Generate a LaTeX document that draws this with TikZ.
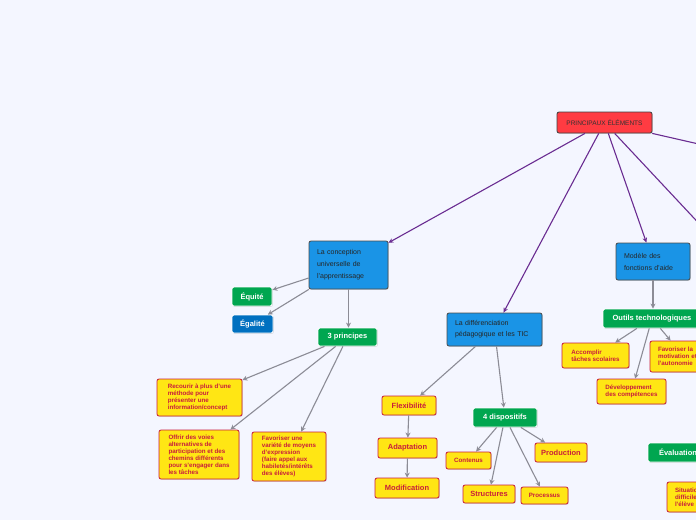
\documentclass[tikz,border=0pt]{standalone}
\usepackage{fontspec}
\setmainfont{Liberation Sans}
\usetikzlibrary{arrows.meta,shadows}
\definecolor{pagebg}{RGB}{244,246,255}
\definecolor{mainred}{RGB}{255,59,66}
\definecolor{topicblue}{RGB}{26,148,230}
\definecolor{tagblue}{RGB}{0,112,192}
\definecolor{taggreen}{RGB}{0,166,80}
\definecolor{leafyellow}{RGB}{255,230,20}
\definecolor{leafred}{RGB}{200,30,60}
\definecolor{linkpurple}{RGB}{106,44,145}
\definecolor{linkgrey}{RGB}{140,140,150}

\begin{document}
\begin{tikzpicture}[x=1pt,y=-1pt,
    box/.style={rounded corners=2pt,inner sep=0pt,
      drop shadow={shadow xshift=0.8pt,shadow yshift=-0.8pt,opacity=0.25}},
    mainbox/.style={box,draw=black!75,line width=0.8pt,fill=mainred,text=black!80,
      font=\fontsize{6.5}{8}\selectfont},
    topic/.style={box,draw=black!70,line width=0.8pt,fill=topicblue,text=black!85,
      align=left,font=\fontsize{7}{12}\selectfont},
    tag/.style={box,draw=white,line width=0.8pt,fill=taggreen,text=white,
      font=\fontsize{7.5}{8}\selectfont\bfseries},
    leaf/.style={box,draw=leafred,line width=0.8pt,fill=leafyellow,text=leafred,
      align=left,font=\fontsize{6.2}{7}\selectfont\bfseries},
    bigleaf/.style={leaf,align=center,font=\fontsize{7.5}{8}\selectfont\bfseries},
    link/.style={linkpurple,line width=1.1pt,-{Stealth[length=5pt,width=4.5pt]}},
    sublink/.style={linkgrey,line width=1.1pt,-{Stealth[length=5pt,width=5pt]}}]
  % page
  \path[use as bounding box,fill=pagebg] (0,0) rectangle (696,520);
  \clip (0,0) rectangle (696,520);

  % central node
  \node[mainbox,minimum width=95pt,minimum height=21pt] (main) at (604.5,122.5) {PRINCIPAUX ÉLÉMENTS};
  \coordinate (offright) at (760,158);
  \coordinate (offdown) at (780,310);

  % first branch
  \node[topic,minimum width=79pt,minimum height=48pt,text width=63pt] (ucd) at (348.5,265)
    {La conception\\universelle de\\l'apprentissage};
  \node[tag,minimum width=40pt,minimum height=19pt] (equite) at (252,296.5) {Équité};
  \node[tag,fill=tagblue,minimum width=41pt,minimum height=18pt] (egalite) at (252.5,324) {Égalité};
  \node[tag,minimum width=59pt,minimum height=18pt] (trois) at (347.5,337) {3 principes};
  \node[leaf,minimum width=85pt,minimum height=37pt] (recourir) at (199.5,397.5)
    {Recourir à plus d'une\\méthode pour\\présenter une\\information/concept};
  \node[leaf,minimum width=80pt,minimum height=49pt] (offrir) at (199,454.5)
    {Offrir des voies\\alternatives de\\participation et des\\chemins différents\\pour s'engager dans\\les tâches};
  \node[leaf,minimum width=74pt,minimum height=49pt] (moyens) at (289,456.5)
    {Favoriser une\\variété de moyens\\d'expression\\(faire appel aux\\habiletés/intérêts\\des élèves)};

  % second branch
  \node[topic,minimum width=95pt,minimum height=33pt,text width=79pt,
    font=\fontsize{7}{11}\selectfont] (diff) at (494.5,329.5)
    {La différenciation\\pédagogique et les TIC};
  \node[bigleaf,minimum width=54pt,minimum height=19pt] (flex) at (409,405.5) {Flexibilité};
  \node[bigleaf,minimum width=59pt,minimum height=20pt] (adapt) at (407.5,448) {Adaptation};
  \node[bigleaf,minimum width=64pt,minimum height=20pt] (modif) at (407,488) {Modification};
  \node[tag,minimum width=64pt,minimum height=19pt] (quatre) at (505,417.5) {4 dispositifs};
  \node[leaf,minimum width=45pt,minimum height=17pt] (contenus) at (468.5,460.5) {Contenus};
  \node[bigleaf,minimum width=52pt,minimum height=18pt] (struct) at (489,494) {Structures};
  \node[leaf,minimum width=47pt,minimum height=17pt] (process) at (544.5,495.5) {Processus};
  \node[bigleaf,minimum width=52pt,minimum height=19pt] (product) at (561,452.5) {Production};

  % third branch
  \node[topic,minimum width=74pt,minimum height=37pt,text width=58pt] (modele) at (653,261.5)
    {Modèle des\\fonctions d'aide};
  \node[tag,minimum width=98pt,minimum height=19pt] (outils) at (652,318.5) {Outils technologiques};
  \node[leaf,minimum width=67pt,minimum height=25pt] (accomplir) at (595.5,355.5)
    {Accomplir\\tâches scolaires};
  \node[leaf,minimum width=69pt,minimum height=25pt] (devel) at (631.5,391.5)
    {Développement\\des compétences};
  \node[leaf,minimum width=68pt,minimum height=31pt,text width=52pt] (motiv) at (684,356.5)
    {Favoriser la\\motivation et\\l'autonomie};
  \node[tag,minimum width=60pt,minimum height=19pt] (eval) at (678,452.5) {Évaluation};
  \node[leaf,minimum width=70pt,minimum height=30pt,text width=54pt] (situ) at (702,497)
    {Situations\\difficiles pour\\l'élève};

  % links from the central node
  \draw[link] (main) -- (ucd);
  \draw[link] (main) -- (diff);
  \draw[link] (main) -- (modele);
  \draw[link] (main) -- (offdown);
  \draw[link] (main) -- (offright);

  % links of the first branch
  \draw[sublink] (ucd) -- (equite);
  \draw[sublink] (ucd) -- (egalite);
  \draw[sublink] (ucd) -- (ucd |- trois.north);
  \draw[sublink] (trois) -- (recourir);
  \draw[sublink] (trois) -- (offrir);
  \draw[sublink] (trois) -- (moyens);

  % links of the second branch
  \draw[sublink] (diff) -- (flex);
  \draw[sublink] (flex) -- (adapt);
  \draw[sublink] (adapt) -- (modif);
  \draw[sublink] (diff) -- (quatre);
  \draw[sublink] (quatre) -- (contenus);
  \draw[sublink] (quatre) -- (struct);
  \draw[sublink] (quatre) -- (process);
  \draw[sublink] (quatre) -- (product);

  % links of the third branch
  \draw[sublink] (modele) -- (modele |- outils.north);
  \draw[sublink] (outils) -- (accomplir);
  \draw[sublink] (outils) -- (devel);
  \draw[sublink] (outils) -- (motiv);
\end{tikzpicture}
\end{document}
